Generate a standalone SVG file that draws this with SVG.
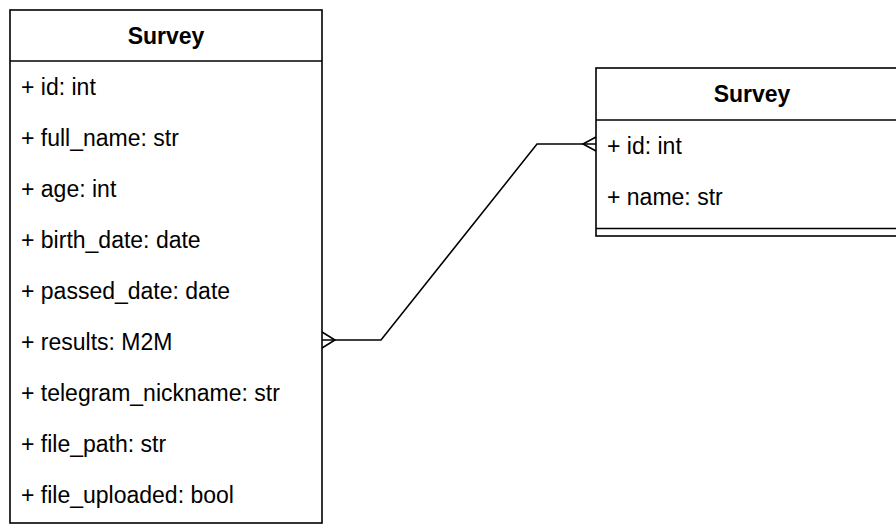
<svg xmlns="http://www.w3.org/2000/svg" width="896" height="526" viewBox="0 0 896 526">
<style>
.box{fill:#fff;stroke:#000;stroke-width:1.6}
.ln{stroke:#000;stroke-width:1.6;fill:none}
.h{font-family:"Liberation Sans",Arial,sans-serif;font-size:23px;font-weight:bold;text-anchor:middle;fill:#000}
.t{font-family:"Liberation Sans",Arial,sans-serif;font-size:23px;fill:#000}
</style>
<rect width="896" height="526" fill="#fff"/>
<g id="connectors">
<polyline class="ln" points="322,340 381,340 537,144 596,144"/>
<polyline class="ln" points="322,332 335,340 322,348"/>
<polyline class="ln" points="596,137 583,144 596,151"/>
</g>
<g id="survey-left">
<rect class="box" x="10" y="10" width="312" height="513"/>
<line class="ln" x1="10" y1="61" x2="322" y2="61"/>
<text class="h" x="166" y="43.5">Survey</text>
<text class="t" x="21" y="94.5">+ id: int</text>
<text class="t" x="21" y="145.5">+ full_name: str</text>
<text class="t" x="21" y="196.5">+ age: int</text>
<text class="t" x="21" y="247.5">+ birth_date: date</text>
<text class="t" x="21" y="298.5">+ passed_date: date</text>
<text class="t" x="21" y="349.5">+ results: M2M</text>
<text class="t" x="21" y="400.5">+ telegram_nickname: str</text>
<text class="t" x="21" y="451.5">+ file_path: str</text>
<text class="t" x="21" y="502.5">+ file_uploaded: bool</text>
</g>
<g id="survey-right">
<rect class="box" x="596" y="68" width="312" height="168"/>
<line class="ln" x1="596" y1="120" x2="908" y2="120"/>
<line class="ln" x1="596" y1="228.5" x2="908" y2="228.5"/>
<text class="h" x="752" y="102">Survey</text>
<text class="t" x="607" y="154">+ id: int</text>
<text class="t" x="607" y="205">+ name: str</text>
</g>
</svg>
